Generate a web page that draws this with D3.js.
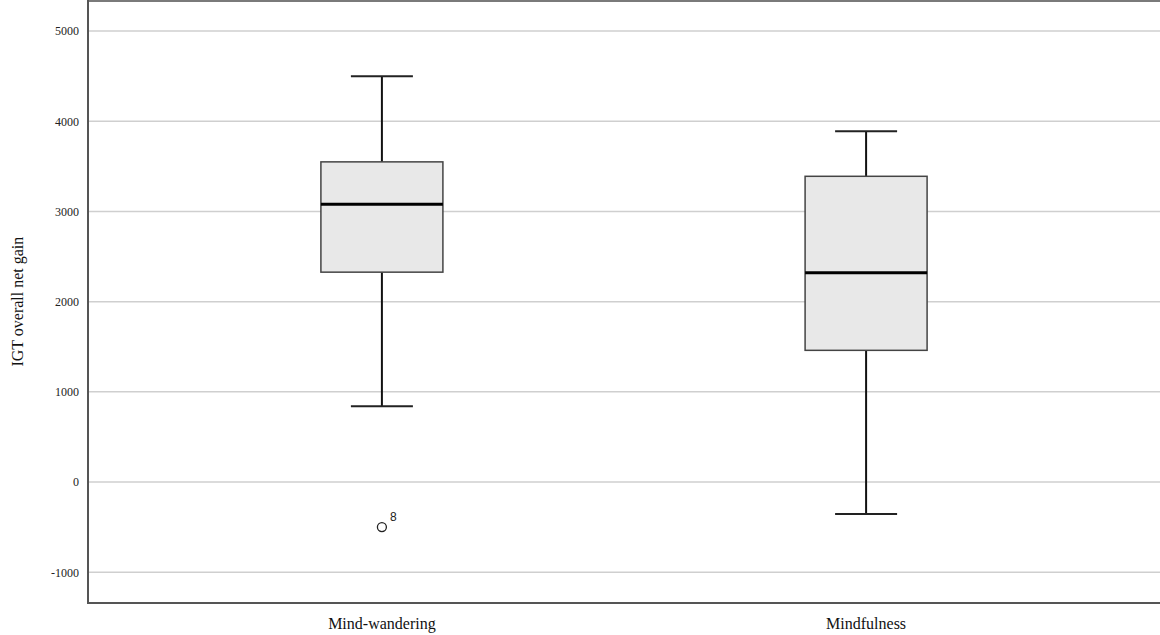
<!DOCTYPE html>
<html>
<head>
<meta charset="utf-8">
<script src="https://cdn.jsdelivr.net/npm/d3@7"></script>
<style>
  body { margin: 0; background: #fff; }
  svg { display: block; }
</style>
</head>
<body>
<div id="chart"></div>
<script>
// groups and their five-number summaries
const groups = ["Mind-wandering", "Mindfulness"];
const whiskerLow = [840, -355];
const q1 = [2327, 1460];
const median = [3080, 2320];
const q3 = [3550, 3390];
const whiskerHigh = [4500, 3890];
const outliers = [{ group: "Mind-wandering", value: -500, label: "8" }];
const yTicks = [-1000, 0, 1000, 2000, 3000, 4000, 5000];

const margin = { top: 1, right: 0, bottom: 32, left: 88 };
const width = 1160 - margin.left - margin.right;
const height = 635 - margin.top - margin.bottom;

const svg = d3.select("#chart").append("svg")
    .attr("width", width + margin.left + margin.right)
    .attr("height", height + margin.top + margin.bottom)
    .append("g")
    .attr("transform", `translate(${margin.left},${margin.top})`);

const x = d3.scalePoint()
    .domain(groups)
    .range([0, width])
    .padding(0.607);

const y = d3.scaleLinear()
    .domain([-1342, 5334])
    .range([height, 0]);

const boxW = 122;
const capW = 62;

// gridlines
svg.append("g")
    .selectAll("line")
    .data(yTicks)
    .enter().append("line")
    .attr("x1", 0)
    .attr("x2", width)
    .attr("y1", d => y(d))
    .attr("y2", d => y(d))
    .style("stroke", "#cfcfcf")
    .style("stroke-width", 1.5);

// y axis labels
const yAxis = svg.append("g")
    .call(d3.axisLeft(y).tickValues(yTicks).tickFormat(d => String(d)).tickSize(0).tickPadding(9));
yAxis.select(".domain").remove();
yAxis.selectAll("text")
    .style("font-family", "'Liberation Serif', 'DejaVu Serif', serif")
    .style("font-size", "12px")
    .style("fill", "#222");

const data = groups.map((g, i) => ({
    group: g, lo: whiskerLow[i], q1: q1[i], med: median[i], q3: q3[i], hi: whiskerHigh[i]
}));

const box = svg.selectAll(".box")
    .data(data)
    .enter().append("g")
    .attr("class", "box");

// whisker stems
box.append("line")
    .attr("x1", d => x(d.group))
    .attr("x2", d => x(d.group))
    .attr("y1", d => y(d.hi))
    .attr("y2", d => y(d.q3))
    .style("stroke", "#111").style("stroke-width", 2);
box.append("line")
    .attr("x1", d => x(d.group))
    .attr("x2", d => x(d.group))
    .attr("y1", d => y(d.q1))
    .attr("y2", d => y(d.lo))
    .style("stroke", "#111").style("stroke-width", 2);

// caps
["hi", "lo"].forEach(k => {
    box.append("line")
        .attr("x1", d => x(d.group) - capW / 2)
        .attr("x2", d => x(d.group) + capW / 2)
        .attr("y1", d => y(d[k]))
        .attr("y2", d => y(d[k]))
        .style("stroke", "#222").style("stroke-width", 2);
});

// boxes
box.append("rect")
    .attr("x", d => x(d.group) - boxW / 2)
    .attr("y", d => y(d.q3))
    .attr("width", boxW)
    .attr("height", d => y(d.q1) - y(d.q3))
    .style("fill", "#e8e8e8")
    .style("stroke", "#444")
    .style("stroke-width", 1.5);

// medians
box.append("line")
    .attr("x1", d => x(d.group) - boxW / 2)
    .attr("x2", d => x(d.group) + boxW / 2)
    .attr("y1", d => y(d.med))
    .attr("y2", d => y(d.med))
    .style("stroke", "#000").style("stroke-width", 3);

// outliers
const out = svg.selectAll(".outlier")
    .data(outliers)
    .enter().append("g")
    .attr("class", "outlier");
out.append("circle")
    .attr("cx", d => x(d.group))
    .attr("cy", d => y(d.value))
    .attr("r", 4.5)
    .style("fill", "#fff")
    .style("stroke", "#222")
    .style("stroke-width", 1.3);
out.append("text")
    .attr("x", d => x(d.group) + 8)
    .attr("y", d => y(d.value) - 6)
    .style("font-family", "'Liberation Sans', Arial, sans-serif")
    .style("font-size", "12px")
    .style("fill", "#222")
    .text(d => d.label);

// frame
svg.append("line")
    .attr("x1", 0).attr("x2", width).attr("y1", 0).attr("y2", 0)
    .style("stroke", "#7a7a7a").style("stroke-width", 2);
svg.append("line")
    .attr("x1", 0).attr("x2", 0).attr("y1", -1).attr("y2", height + 1)
    .style("stroke", "#555").style("stroke-width", 2);
svg.append("line")
    .attr("x1", 0).attr("x2", width).attr("y1", height).attr("y2", height)
    .style("stroke", "#555").style("stroke-width", 2);

// x labels
svg.append("g")
    .selectAll("text")
    .data(groups)
    .enter().append("text")
    .attr("x", d => x(d))
    .attr("y", height + 26)
    .attr("text-anchor", "middle")
    .style("font-family", "'Liberation Serif', 'DejaVu Serif', serif")
    .style("font-size", "16px")
    .style("fill", "#111")
    .text(d => d);

// y title
svg.append("text")
    .attr("transform", "rotate(-90)")
    .attr("x", -y(2000))
    .attr("y", -margin.left + 23)
    .attr("text-anchor", "middle")
    .style("font-family", "'Liberation Serif', 'DejaVu Serif', serif")
    .style("font-size", "16px")
    .style("fill", "#111")
    .text("IGT overall net gain");
</script>
</body>
</html>
